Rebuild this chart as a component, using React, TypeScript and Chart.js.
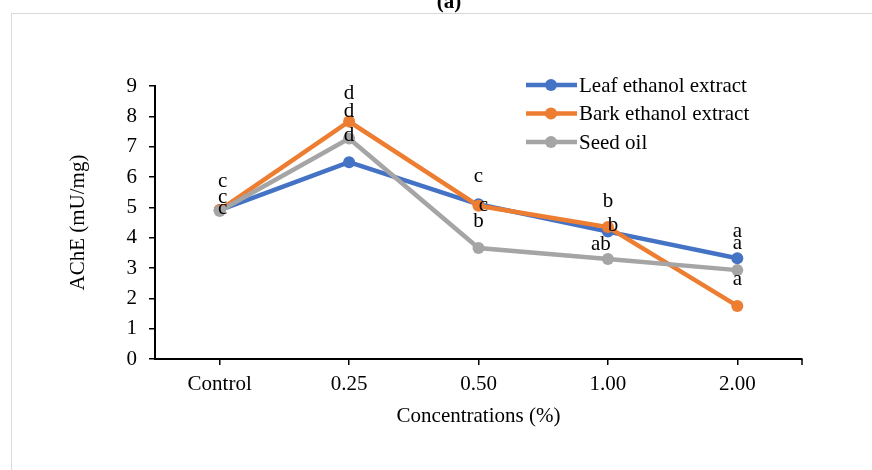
import React, { useEffect, useRef } from 'react';
import { Chart, registerables } from 'chart.js';

Chart.register(...registerables);

const categories = ['Control', '0.25', '0.50', '1.00', '2.00'];
const seriesNames = ['Leaf ethanol extract', 'Bark ethanol extract', 'Seed oil'];
const leafValues = [4.91, 6.49, 5.1, 4.2, 3.32];
const barkValues = [4.91, 7.83, 5.05, 4.35, 1.75];
const seedValues = [4.88, 7.27, 3.66, 3.3, 2.93];
const leafLetters = ['c', 'd', 'c', 'b', 'a'];
const barkLetters = ['c', 'd', 'c', 'b', 'a'];
const seedLetters = ['c', 'd', 'b', 'ab', 'a'];
const yMin = 0;
const yMax = 9;
const yStep = 1;

// label placement offsets (pixels, relative to each point)
const leafOffsets = [[3, -23], [0, -21], [0, -22], [5, -1], [0, -21]];
const barkOffsets = [[3, -7], [0, -22], [5, 5], [0, -20], [0, -21]];
const seedOffsets = [[3, 3], [0, -21], [0, -21], [-7, -9], [0, -21]];

const colors = ['#4472C4', '#ED7D31', '#A5A5A5'];
const FONT = "'Liberation Serif', 'Times New Roman', serif";
const FS = 21;

export default function App() {
  const ref = useRef<HTMLCanvasElement>(null);

  useEffect(() => {
    document.body.style.margin = '0';
    const canvas = ref.current;
    if (!canvas) return;
    const letters = [leafLetters, barkLetters, seedLetters];
    const offsets = [leafOffsets, barkOffsets, seedOffsets];

    const extras = {
      id: 'extras',
      beforeDraw(chart: any) {
        const ctx = chart.ctx;
        ctx.save();
        ctx.fillStyle = '#ffffff';
        ctx.fillRect(0, 0, chart.width, chart.height);
        ctx.strokeStyle = '#d9d9d9';
        ctx.lineWidth = 1;
        ctx.strokeRect(11.5, 13.5, 2000, 2000);
        ctx.fillStyle = '#000';
        ctx.font = `bold 21px ${FONT}`;
        ctx.textAlign = 'center';
        ctx.textBaseline = 'alphabetic';
        ctx.fillText('(a)', 449, 8);
        ctx.restore();
      },
      afterDatasetsDraw(chart: any) {
        const ctx = chart.ctx;
        ctx.save();
        ctx.fillStyle = '#000';
        ctx.font = `${FS}px ${FONT}`;
        ctx.textAlign = 'center';
        ctx.textBaseline = 'alphabetic';
        chart.data.datasets.forEach((_ds: any, di: number) => {
          const meta = chart.getDatasetMeta(di);
          meta.data.forEach((pt: any, i: number) => {
            const [dx, dy] = offsets[di][i];
            ctx.fillText(letters[di][i], pt.x + dx, pt.y + dy);
          });
        });
        ctx.restore();
      },
      afterDraw(chart: any) {
        const ctx = chart.ctx;
        const area = chart.chartArea;
        ctx.save();
        // right-end tick on x axis
        ctx.strokeStyle = '#000';
        ctx.lineWidth = 1.5;
        ctx.beginPath();
        ctx.moveTo(area.right, area.bottom);
        ctx.lineTo(area.right, area.bottom + 6);
        ctx.stroke();
        // legend
        ctx.font = `${FS}px ${FONT}`;
        ctx.textAlign = 'left';
        ctx.textBaseline = 'middle';
        seriesNames.forEach((name, i) => {
          const y = 85 + i * 28.5;
          ctx.strokeStyle = colors[i];
          ctx.lineWidth = 4.5;
          ctx.beginPath();
          ctx.moveTo(526, y);
          ctx.lineTo(577, y);
          ctx.stroke();
          ctx.fillStyle = colors[i];
          ctx.beginPath();
          ctx.arc(551, y, 6, 0, Math.PI * 2);
          ctx.fill();
          ctx.fillStyle = '#000';
          ctx.fillText(name, 579, y + 1);
        });
        ctx.restore();
      },
    };

    const font = { family: FONT, size: FS };
    const valueSets = [leafValues, barkValues, seedValues];

    const chart = new Chart(canvas, {
      type: 'line',
      data: {
        labels: categories,
        datasets: seriesNames.map((name, i) => ({
          label: name,
          data: valueSets[i],
          borderColor: colors[i],
          backgroundColor: colors[i],
          pointBackgroundColor: colors[i],
          pointBorderColor: colors[i],
          pointBorderWidth: 0,
          pointRadius: 6,
          borderWidth: 4.5,
          tension: 0,
          fill: false,
          order: 3 - i,
        })),
      },
      options: {
        responsive: false,
        animation: false,
        layout: { padding: { left: 11, right: 70, top: 86, bottom: 0 } },
        plugins: {
          legend: { display: false },
          tooltip: { enabled: false },
          title: { display: false },
        },
        scales: {
          x: {
            type: 'category',
            offset: true,
            grid: {
              display: true,
              drawOnChartArea: false,
              drawTicks: true,
              tickLength: 6,
              color: '#000',
              lineWidth: 1.5,
            },
            border: { display: true, color: '#000', width: 2 },
            ticks: { color: '#000', font, padding: 7, maxRotation: 0 },
            title: {
              display: true,
              text: 'Concentrations (%)',
              color: '#000',
              font,
              padding: { top: 0, bottom: 41 },
            },
            afterFit: (s: any) => {
              s.height = 111;
            },
          },
          y: {
            min: yMin,
            max: yMax,
            ticks: { stepSize: yStep, color: '#000', font, padding: 12 },
            grid: {
              display: true,
              drawOnChartArea: false,
              drawTicks: true,
              tickLength: 6,
              color: '#000',
              lineWidth: 1.5,
            },
            border: { display: true, color: '#000', width: 2 },
            title: {
              display: true,
              text: 'AChE (mU/mg)',
              color: '#000',
              font,
              padding: { top: 55, bottom: 0 },
            },
            afterFit: (s: any) => {
              s.width = 144;
            },
          },
        },
      },
      plugins: [extras],
    } as any);

    return () => chart.destroy();
  }, []);

  return <canvas ref={ref} width={872} height={470} style={{ display: 'block', width: 872, height: 470 }} />;
}
